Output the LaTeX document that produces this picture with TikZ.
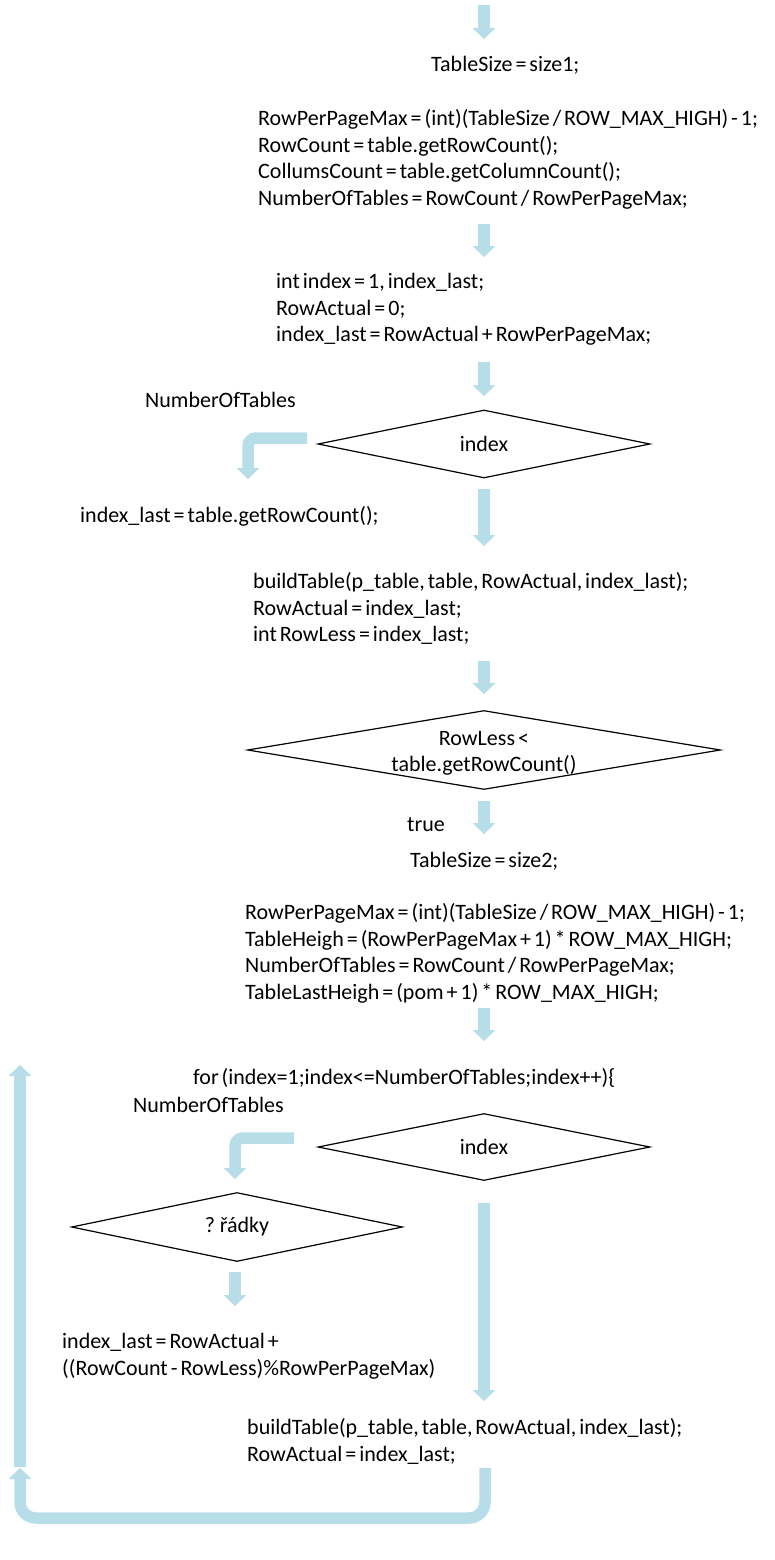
\documentclass[tikz,border=0pt]{standalone}
\usepackage{fontspec}
\setmainfont{Carlito}[WordSpace=0.6]
\usetikzlibrary{arrows.meta,shapes.geometric}
\definecolor{arrowblue}{RGB}{183,221,232}
\tikzset{
  txt/.style={font=\fontsize{22}{26.5}\selectfont, align=left, inner sep=0pt, anchor=north west},
  ctxt/.style={font=\fontsize{22}{26.5}\selectfont, align=center, inner sep=0pt, anchor=north},
  dia/.style={draw=black, line width=1.2pt, diamond, inner sep=0pt, aspect=6,
    font=\fontsize{22}{26.5}\selectfont, align=center},
  flow/.style={draw=arrowblue, line width=11.5pt,
    -{Triangle[width=23pt,length=11pt,line width=0pt]}},
}
\begin{document}
\begin{tikzpicture}[x=1pt,y=-1pt]
\useasboundingbox (0,0) rectangle (775,1560);

% text nodes
\node[txt] (ts1) at (431,53) {\strut TableSize = size1;};
\node[txt] (b1) at (258,107) {\strut RowPerPageMax = (int)(TableSize / ROW\_MAX\_HIGH) - 1;\\
RowCount = table.getRowCount();\\
CollumsCount = table.getColumnCount();\\
NumberOfTables = RowCount / RowPerPageMax;};
\node[txt] (b2) at (276,270) {\strut int index = 1, index\_last;\\
RowActual = 0;\\
index\_last = RowActual + RowPerPageMax;};
\node[txt] (nt1) at (145,389) {\strut NumberOfTables};
\node[dia, minimum width=332pt, minimum height=68pt] (d1) at (484,444) {index};
\node[txt] (il1) at (80,504) {\strut index\_last = table.getRowCount();};
\node[txt] (b3) at (253,570) {\strut buildTable(p\_table, table, RowActual, index\_last);\\
RowActual = index\_last;\\
int RowLess = index\_last;};
\node[dia, minimum width=473pt, minimum height=79pt] (d2) at (484,750) {};
\node[ctxt] (d2t) at (484,726.5) {\strut RowLess <\\table.getRowCount()};
\node[txt] (tr) at (407,813) {\strut true};
\node[txt] (ts2) at (410,849) {\strut TableSize = size2;};
\node[txt] (b4) at (245,901) {\strut RowPerPageMax = (int)(TableSize / ROW\_MAX\_HIGH) - 1;\\
TableHeigh = (RowPerPageMax + 1) * ROW\_MAX\_HIGH;\\
NumberOfTables = RowCount / RowPerPageMax;\\
TableLastHeigh = (pom + 1) * ROW\_MAX\_HIGH;};
\node[txt] (fr) at (193,1066) {\strut for (index=1;index<=NumberOfTables;index++)\{};
\node[txt] (nt2) at (133,1094) {\strut NumberOfTables};
\node[dia, minimum width=332pt, minimum height=67pt] (d3) at (484,1147) {index};
\node[dia, minimum width=331pt, minimum height=69pt] (d4) at (237,1227) {? řádky};
\node[txt] (il2) at (62,1330) {\strut index\_last = RowActual +\\
((RowCount - RowLess)\%RowPerPageMax)};
\node[txt] (b5) at (247,1416) {\strut buildTable(p\_table, table, RowActual, index\_last);\\
RowActual = index\_last;};

% arrow end points
\coordinate (a1s) at (484,5);    \coordinate (a1e) at (484,39);
\coordinate (a2s) at (484,224);  \coordinate (a2e) at (484,257);
\coordinate (a3s) at (484,362);  \coordinate (a3e) at (484,396);
\coordinate (a4s) at (484,489);  \coordinate (a4e) at (484,546);
\coordinate (a5s) at (484,661);  \coordinate (a5e) at (484,694);
\coordinate (a6s) at (484,801);  \coordinate (a6e) at (484,834);
\coordinate (a7s) at (484,1008); \coordinate (a7e) at (484,1041);
\coordinate (a8s) at (484,1203); \coordinate (a8e) at (484,1401);
\coordinate (a9s) at (235,1272); \coordinate (a9e) at (235,1306);
\coordinate (k1s) at (307,438);  \coordinate (k1e) at (248,479);
\coordinate (k2s) at (294,1138); \coordinate (k2e) at (235,1179);
\coordinate (ls) at (485,1468);  \coordinate (lc1) at (485,1518);
\coordinate (lc2) at (20,1518);  \coordinate (le) at (20,1468);
\coordinate (us) at (20,1467);   \coordinate (ue) at (20,1065);

\draw[flow] (a1s) -- (a1e);
\draw[flow] (a2s) -- (a2e);
\draw[flow] (a3s) -- (a3e);
\draw[flow] (a4s) -- (a4e);
\draw[flow] (a5s) -- (a5e);
\draw[flow] (a6s) -- (a6e);
\draw[flow] (a7s) -- (a7e);
\draw[flow] (a8s) -- (a8e);
\draw[flow] (a9s) -- (a9e);
\draw[flow, rounded corners=8pt] (k1s) -| (k1e);
\draw[flow, rounded corners=8pt] (k2s) -| (k2e);
\draw[flow, rounded corners=16pt] (ls) -- (lc1) -- (lc2) -- (le);
\draw[flow] (us) -- (ue);
\end{tikzpicture}
\end{document}
